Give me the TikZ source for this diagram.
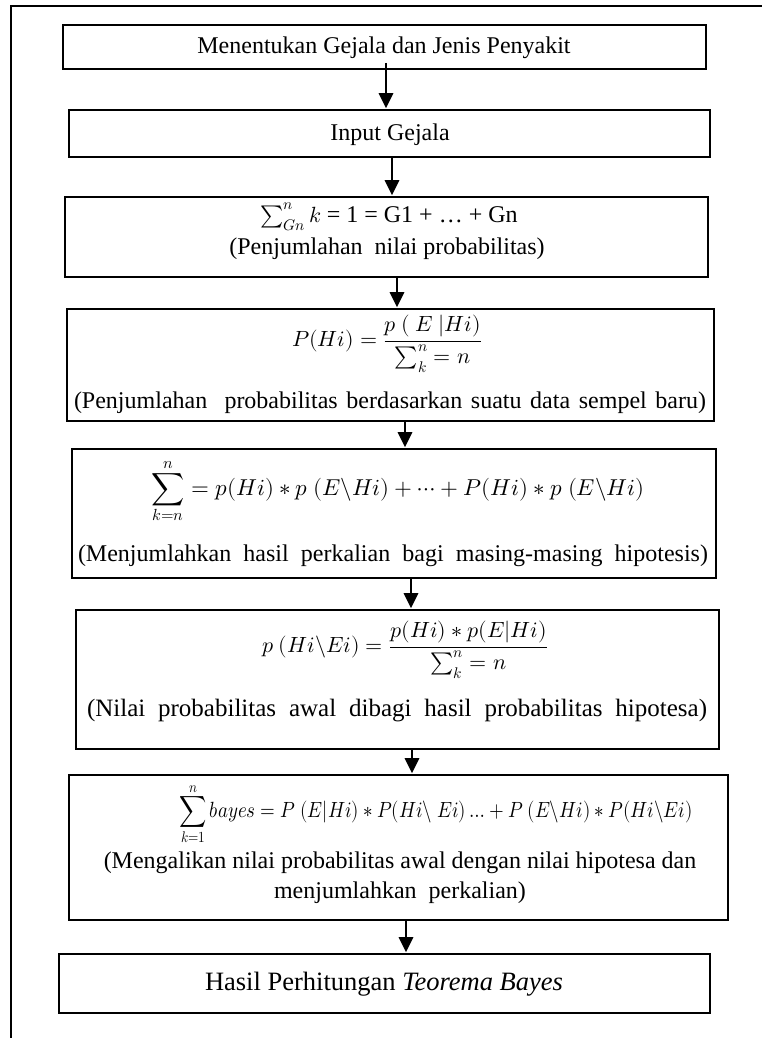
\documentclass[tikz,border=0pt]{standalone}
\usepackage{fontspec}
\usepackage{amsmath}
\usepackage{unicode-math}
\usepackage{graphicx}
\setmainfont{Liberation Serif}
\setmathfont{Latin Modern Math}
\usetikzlibrary{arrows.meta}
\tikzset{
  box/.style={draw=black, line width=1.6pt, inner sep=0pt},
  txt/.style={font=\fontsize{24}{30}\selectfont, inner sep=0pt, align=center},
  mth/.style={font=\fontsize{22}{27}\selectfont, inner sep=0pt, align=center},
  arr/.style={line width=2.8pt, -{Triangle[width=14pt,length=15pt]}, shorten >=1pt},
  frame/.style={line width=2pt}
}
\begin{document}
\begin{tikzpicture}[x=1pt,y=-1pt]
\useasboundingbox (0,0) rectangle (762,1038);
% outer frame (cropped)
\coordinate (fa) at (762,6.5);
\coordinate (fb) at (11,6.5);
\coordinate (fc) at (11,1038);
\draw[frame] (fa) -- (fb) -- (fc);

% boxes
\node[box, minimum width=643pt, minimum height=44pt]  (b1) at (384.5,47) {};
\node[box, minimum width=641pt, minimum height=47pt]  (b2) at (389.5,133.5) {};
\node[box, minimum width=643pt, minimum height=80pt]  (b3) at (386.5,237) {};
\node[box, minimum width=647pt, minimum height=112pt] (b4) at (390.5,365) {};
\node[box, minimum width=644pt, minimum height=129pt] (b5) at (394,513.5) {};
\node[box, minimum width=643pt, minimum height=139pt] (b6) at (397.5,679.5) {};
\node[box, minimum width=659pt, minimum height=145pt] (b7) at (398.5,847.5) {};
\node[box, minimum width=651pt, minimum height=59pt]  (b8) at (384.5,983.5) {};

% texts
\node[txt] (t1) at (384,48) {Menentukan Gejala dan Jenis Penyakit};
\node[txt] (t2) at (390,135) {Input Gejala};
\node[mth] (t3a) at (389,217) {$\sum_{Gn}^{n} k$\fontsize{24}{30}\selectfont{} = 1 = G1 + … + Gn};
\node[txt] (t3b) at (387,249) {(Penjumlahan\ \ nilai probabilitas)};
\node[mth] (t4a) at (387,344) {$P(Hi) = \dfrac{p\ (\ E\ |Hi)}{\sum_{k}^{n} = n}$};
\node[txt] (t4b) at (390,403) {\makebox[632pt][s]{(Penjumlahan\ \ probabilitas berdasarkan suatu data sempel baru)}};
\node[mth, font=\fontsize{23}{28}\selectfont] (t5a) at (398,491) {$\displaystyle\sum_{k=n}^{n} = p(Hi) * p\ (E\backslash Hi) + \cdots + P(Hi) * p\ (E\backslash Hi)$};
\node[txt] (t5b) at (393,556) {\makebox[630pt][s]{(Menjumlahkan hasil perkalian bagi masing-masing hipotesis)}};
\node[mth] (t6a) at (405,650) {$p\ (Hi\backslash Ei) = \dfrac{p(Hi) * p(E|Hi)}{\sum_{k}^{n} = n}$};
\node[txt, font=\fontsize{25}{30}\selectfont] (t6b) at (397,711) {\makebox[620pt][s]{(Nilai probabilitas awal dibagi hasil probabilitas hipotesa)}};
\node[mth] (t7a) at (436,814) {\scalebox{0.86}[1]{$\displaystyle\sum_{k=1}^{n} bayes = P\ (E|Hi) * P(Hi\backslash\ Ei) \ldots + P\ (E\backslash Hi) * P(Hi\backslash Ei)$}};
\node[txt] (t7b) at (400,878) {(Mengalikan nilai probabilitas awal dengan nilai hipotesa dan\\menjumlahkan\ \ perkalian)};
\node[txt, font=\fontsize{26.5}{31}\selectfont] (t8) at (384,984) {Hasil Perhitungan \textit{Teorema Bayes}};

% arrow x positions
\coordinate (x1) at (386,0);
\coordinate (x2) at (392,0);
\coordinate (x3) at (397,0);
\coordinate (x4) at (405,0);
\coordinate (x5) at (411,0);
\coordinate (x6) at (412,0);
\coordinate (x7) at (406,0);

\draw[arr] ([yshift=7pt]b1.south -| x1) -- (b2.north -| x1);
\draw[arr] (b2.south -| x2) -- (b3.north -| x2);
\draw[arr] (b3.south -| x3) -- (b4.north -| x3);
\draw[arr] (b4.south -| x4) -- (b5.north -| x4);
\draw[arr] (b5.south -| x5) -- (b6.north -| x5);
\draw[arr] (b6.south -| x6) -- (b7.north -| x6);
\draw[arr] (b7.south -| x7) -- (b8.north -| x7);
\end{tikzpicture}
\end{document}
